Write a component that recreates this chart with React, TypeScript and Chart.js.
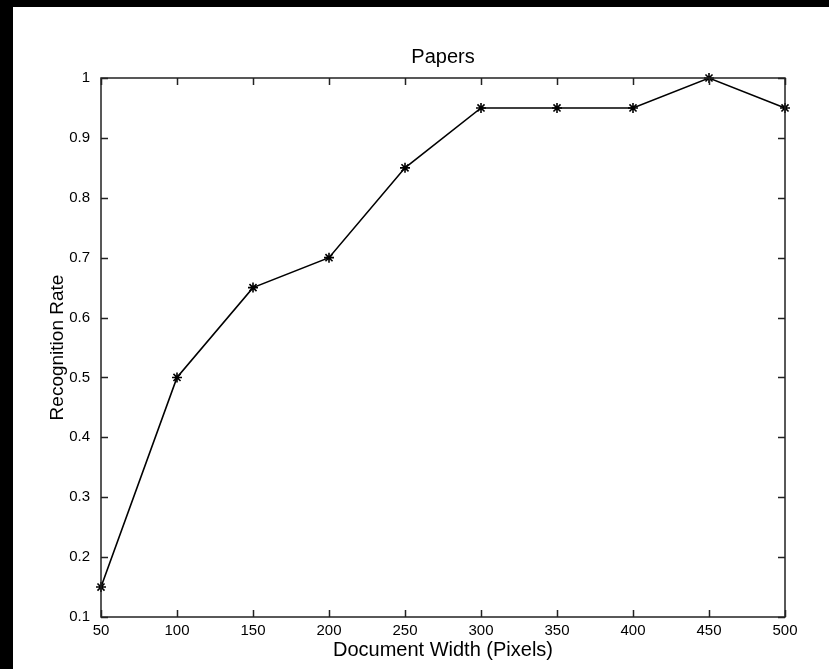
import React, { useEffect, useRef } from "react";
import { Chart, registerables } from "chart.js";

Chart.register(...registerables);

const chartTitle = "Papers";
const xAxisTitle = "Document Width (Pixels)";
const yAxisTitle = "Recognition Rate";
const documentWidths = [50, 100, 150, 200, 250, 300, 350, 400, 450, 500];
const recognitionRates = [0.15, 0.5, 0.65, 0.7, 0.85, 0.95, 0.95, 0.95, 1.0, 0.95];
const xRange = [50, 500];
const yRange = [0.1, 1];
const xStep = 50;
const yStep = 0.1;

const FONT = "'Liberation Sans', Arial, Helvetica, sans-serif";

const boxPlugin = {
  id: "matlabBox",
  afterDraw(chart: any) {
    const { ctx, chartArea } = chart;
    const { left, right, top, bottom } = chartArea;
    const xs = chart.scales.x;
    const ys = chart.scales.y;
    const tl = 7;
    ctx.save();
    ctx.strokeStyle = "#222";
    ctx.lineWidth = 1.5;
    ctx.strokeRect(left, top, right - left, bottom - top);
    ctx.beginPath();
    xs.ticks.forEach((t: any) => {
      const p = Math.round(xs.getPixelForValue(t.value)) + 0.5;
      ctx.moveTo(p, bottom);
      ctx.lineTo(p, bottom - tl);
      ctx.moveTo(p, top);
      ctx.lineTo(p, top + tl);
    });
    ys.ticks.forEach((t: any) => {
      const p = Math.round(ys.getPixelForValue(t.value)) + 0.5;
      ctx.moveTo(left, p);
      ctx.lineTo(left + tl, p);
      ctx.moveTo(right, p);
      ctx.lineTo(right - tl, p);
    });
    ctx.stroke();
    ctx.restore();
  },
};

export default function App() {
  const ref = useRef<HTMLCanvasElement | null>(null);

  useEffect(() => {
    if (!ref.current) return;
    const chart = new Chart(ref.current, {
      type: "line",
      data: {
        datasets: [
          {
            data: documentWidths.map((x, i) => ({ x, y: recognitionRates[i] })),
            borderColor: "#000",
            backgroundColor: "#000",
            borderWidth: 1.6,
            pointStyle: "star",
            pointRadius: 5,
            pointBorderWidth: 1.6,
            pointBorderColor: "#000",
            pointBackgroundColor: "#000",
            tension: 0,
            clip: false as any,
          },
        ],
      },
      options: {
        animation: false,
        responsive: false,
        maintainAspectRatio: false,
        events: [],
        layout: { padding: { left: 0, top: 0, bottom: 0, right: 44 } },
        plugins: {
          legend: { display: false },
          tooltip: { enabled: false },
          title: {
            display: true,
            text: chartTitle,
            fullSize: false,
            color: "#000",
            font: { family: FONT, size: 20, weight: "normal", lineHeight: 1.2 },
            padding: { top: 38, bottom: 9 },
          },
        },
        scales: {
          x: {
            type: "linear",
            min: xRange[0],
            max: xRange[1],
            grid: { display: false, drawTicks: false },
            border: { display: false },
            afterFit: (s: any) => {
              s.height = 52;
            },
            ticks: {
              stepSize: xStep,
              padding: 5,
              color: "#000",
              maxRotation: 0,
              autoSkip: false,
              font: { family: FONT, size: 15 },
              callback: (v: any) => String(Math.round(Number(v))),
            },
            title: {
              display: true,
              text: xAxisTitle,
              color: "#000",
              font: { family: FONT, size: 20, lineHeight: 1.2 },
              padding: { top: 0, bottom: 7 },
            },
          },
          y: {
            type: "linear",
            min: yRange[0],
            max: yRange[1],
            grid: { display: false, drawTicks: false },
            border: { display: false },
            afterFit: (s: any) => {
              s.width = 88;
            },
            ticks: {
              stepSize: yStep,
              padding: 11,
              color: "#000",
              autoSkip: false,
              font: { family: FONT, size: 15 },
              callback: (v: any) => String(Number(Number(v).toFixed(1))),
            },
            title: {
              display: true,
              text: yAxisTitle,
              color: "#000",
              font: { family: FONT, size: 19, lineHeight: 1.2 },
              padding: { top: 33, bottom: 0 },
            },
          },
        },
      },
      plugins: [boxPlugin],
    });
    return () => chart.destroy();
  }, []);

  return (
    <div
      style={{
        position: "fixed",
        left: 0,
        top: 0,
        width: 829,
        height: 669,
        background: "#000",
        overflow: "hidden",
      }}
    >
      <div
        style={{
          position: "absolute",
          left: 13,
          top: 7,
          width: 816,
          height: 662,
          background: "#fff",
        }}
      >
        <canvas ref={ref} width={816} height={662} style={{ display: "block" }} />
      </div>
    </div>
  );
}
